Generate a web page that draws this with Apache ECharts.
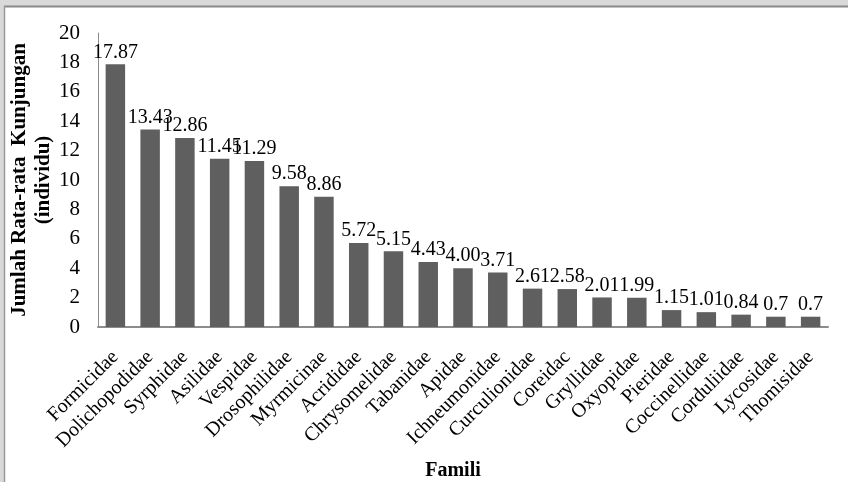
<!DOCTYPE html>
<html>
<head>
<meta charset="utf-8">
<script src="https://cdn.jsdelivr.net/npm/echarts@6/dist/echarts.min.js"></script>
<style>
  html, body { margin: 0; padding: 0; background: #ffffff; }
  #chart { width: 848px; height: 482px; }
</style>
</head>
<body>
<div id="chart"></div>
<script>
// Family names (x axis)
const families = [
  'Formicidae', 'Dolichopodidae', 'Syrphidae', 'Asilidae', 'Vespidae',
  'Drosophilidae', 'Myrmicinae', 'Acrididae', 'Chrysomelidae', 'Tabanidae',
  'Apidae', 'Ichneumonidae', 'Curculionidae', 'Coreidac', 'Gryllidae',
  'Oxyopidae', 'Pieridae', 'Coccinellidae', 'Corduliidae', 'Lycosidae', 'Thomisidae'
];

// Mean number of visits (individuals) per family
const meanVisits = [
  17.87, 13.43, 12.86, 11.45, 11.29,
  9.58, 8.86, 5.72, 5.15, 4.43,
  4.00, 3.71, 2.61, 2.58, 2.01,
  1.99, 1.15, 1.01, 0.84, 0.7, 0.7
];

// Value labels as printed above each bar
const valueLabels = [
  '17.87', '13.43', '12.86', '11.45', '11.29',
  '9.58', '8.86', '5.72', '5.15', '4.43',
  '4.00', '3.71', '2.61', '2.58', '2.01',
  '1.99', '1.15', '1.01', '0.84', '0.7', '0.7'
];

// Y axis range
const yMin = 0, yMax = 20, yStep = 2;

const serif = '"Liberation Serif", "Times New Roman", serif';

const chart = echarts.init(document.getElementById('chart'), null, { renderer: 'canvas' });

chart.setOption({
  animation: false,
  backgroundColor: '#ffffff',
  grid: {
    left: 98, right: 20, top: 33, bottom: 155,
    containLabel: false,
    outerBoundsMode: 'none'
  },
  xAxis: {
    type: 'category',
    data: families,
    name: 'Famili',
    nameLocation: 'middle',
    nameGap: 134,
    nameMoveOverlap: false,
    nameTextStyle: {
      fontFamily: serif, fontWeight: 'bold', fontSize: 20, color: '#000',
      padding: [0, 20, 0, 0]
    },
    axisLine: { lineStyle: { color: '#8c8c8c', width: 2 } },
    axisTick: { show: false },
    axisLabel: {
      interval: 0,
      rotate: 45,
      margin: 27,
      fontFamily: serif,
      fontSize: 20,
      color: '#000'
    }
  },
  yAxis: {
    type: 'value',
    min: yMin,
    max: yMax,
    interval: yStep,
    name: 'Jumlah Rata-rata  Kunjungan\n(individu)',
    nameLocation: 'middle',
    nameGap: 42,
    nameMoveOverlap: false,
    nameRotate: 90,
    nameTextStyle: {
      fontFamily: serif, fontWeight: 'bold', fontSize: 21, color: '#000',
      lineHeight: 24, align: 'center'
    },
    axisLine: { show: true, lineStyle: { color: '#8c8c8c', width: 1 } },
    axisTick: { show: false },
    splitLine: { show: false },
    axisLabel: { fontFamily: serif, fontSize: 21, color: '#000', margin: 18 }
  },
  series: [{
    type: 'bar',
    data: meanVisits,
    barWidth: '56%',
    itemStyle: { color: '#5f5f5f' },
    label: {
      show: true,
      position: 'top',
      distance: 2,
      fontFamily: serif,
      fontSize: 20,
      color: '#000',
      formatter: p => valueLabels[p.dataIndex]
    }
  }],
  graphic: [
    // page frame: grey strip along the top and left edges
    { type: 'rect', left: 0, top: 0, shape: { width: 848, height: 6 }, style: { fill: '#d9d9d9' }, silent: true },
    { type: 'rect', left: 0, top: 0, shape: { width: 4, height: 482 }, style: { fill: '#d9d9d9' }, silent: true },
    { type: 'line', shape: { x1: 4, y1: 6.5, x2: 848, y2: 6.5 }, style: { stroke: '#8a8a8a', lineWidth: 2 }, silent: true },
    { type: 'line', shape: { x1: 4.5, y1: 6, x2: 4.5, y2: 482 }, style: { stroke: '#9a9a9a', lineWidth: 1.5 }, silent: true }
  ]
});
</script>
</body>
</html>
